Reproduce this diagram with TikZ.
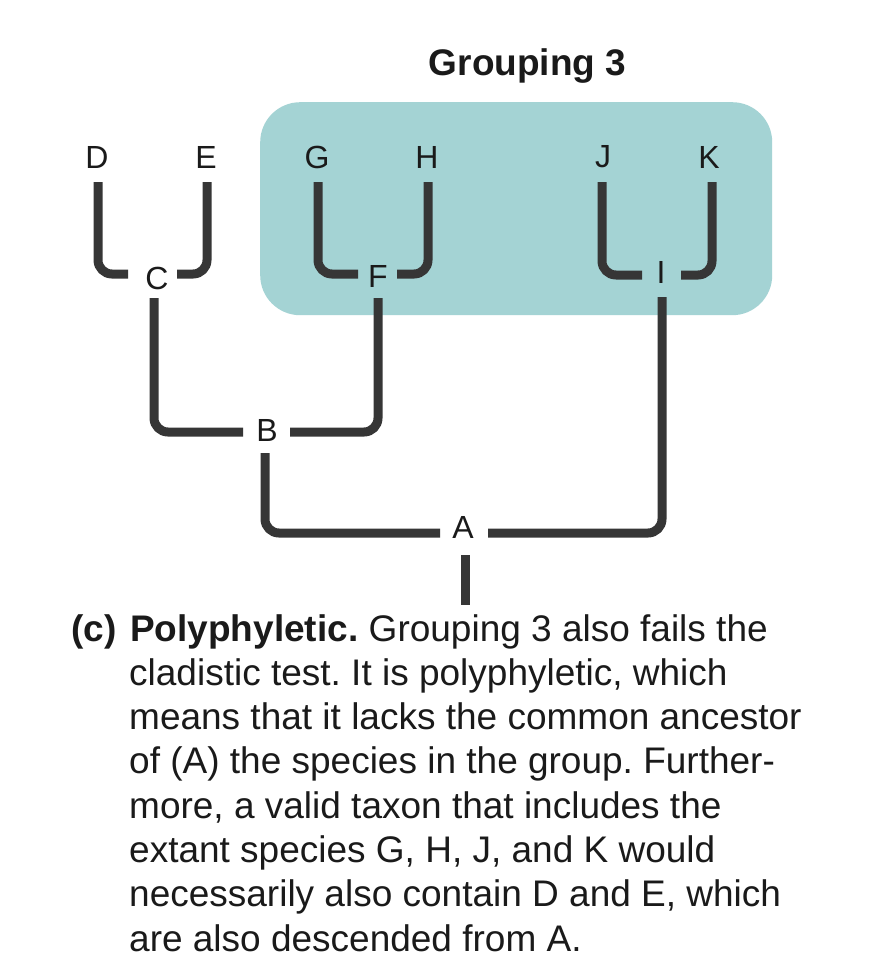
\documentclass[tikz,border=0pt]{standalone}
\usepackage{fontspec}
\setmainfont{Liberation Sans}
\frenchspacing
\definecolor{teal}{HTML}{A4D3D4}
\definecolor{branchcol}{HTML}{363636}
\definecolor{txt}{HTML}{1A1A1A}
\begin{document}
\begin{tikzpicture}[x=1pt,y=-1pt,
  branch/.style={draw=branchcol,line width=9pt,rounded corners=14pt},
  taxon/.style={inner sep=0pt,font=\fontsize{32}{38}\selectfont,text=txt},
  bodyline/.style={anchor=base west,inner sep=0pt,font=\fontsize{37}{44}\selectfont\frenchspacing,text=txt}]
\useasboundingbox[fill=white] (0,0) rectangle (872,966);
% grouping box
\node[fill=teal,rounded corners=40pt,minimum width=512pt,minimum height=213pt,inner sep=0pt,anchor=north west] (grp) at (260,102) {};
\node[anchor=base,inner sep=0pt,font=\fontsize{37}{44}\selectfont\bfseries,text=txt] (title) at (527.5,75) {Grouping 3};
% taxon labels
\node[taxon] (D) at (97,157) {D};
\node[taxon] (E) at (206,157) {E};
\node[taxon] (G) at (317,157) {G};
\node[taxon] (H) at (427,157) {H};
\node[taxon] (J) at (603,157) {J};
\node[taxon] (K) at (709,157) {K};
\node[taxon] (C) at (157,278) {C};
\node[taxon] (F) at (378,276) {F};
\node[taxon] (I) at (661,272) {I};
\node[taxon] (B) at (267,430) {B};
\node[taxon] (A) at (463,527) {A};
% branch end points
\coordinate (Dt) at (98,182);   \coordinate (Cl) at (128,274);
\coordinate (Et) at (207,182);  \coordinate (Cr) at (177,274);
\coordinate (Gt) at (318,182);  \coordinate (Fl) at (358,274);
\coordinate (Ht) at (428,182);  \coordinate (Fr) at (397,274);
\coordinate (Jt) at (602,182);  \coordinate (Il) at (642,275);
\coordinate (Kt) at (712,182);  \coordinate (Ir) at (681,275);
\coordinate (Cb) at (154,298);  \coordinate (Bl) at (243,432);
\coordinate (Fb) at (378,298);  \coordinate (Br) at (290,432);
\coordinate (Bb) at (265,453);  \coordinate (Al) at (440,533);
\coordinate (Ib) at (662,297);  \coordinate (Ar) at (488,533);
\coordinate (Ab) at (465,555);  \coordinate (root) at (465,605);
% branches
\draw[branch] (Dt) |- (Cl);
\draw[branch] (Et) |- (Cr);
\draw[branch] (Gt) |- (Fl);
\draw[branch] (Ht) |- (Fr);
\draw[branch] (Jt) |- (Il);
\draw[branch] (Kt) |- (Ir);
\draw[branch] (Cb) |- (Bl);
\draw[branch] (Fb) |- (Br);
\draw[branch] (Bb) |- (Al);
\draw[branch] (Ib) |- (Ar);
\draw[branch] (Ab) -- (root);
% caption
\node[bodyline] (lab) at (71,641) {\bfseries (c)};
\node[bodyline] (l1) at (130,641) {\textbf{Polyphyletic.} Grouping 3 also fails the};
\node[bodyline] (l2) at (129,685.3) {cladistic test. It is polyphyletic, which};
\node[bodyline] (l3) at (129,729.6) {means that it lacks the common ancestor};
\node[bodyline] (l4) at (129,773.9) {of (A) the species in the group. Further-};
\node[bodyline] (l5) at (129,818.2) {more, a valid taxon that includes the};
\node[bodyline] (l6) at (129,862.5) {extant species G, H, J, and K would};
\node[bodyline] (l7) at (129,906.8) {necessarily also contain D and E, which};
\node[bodyline] (l8) at (129,951.1) {are also descended from A.};
\end{tikzpicture}
\end{document}
